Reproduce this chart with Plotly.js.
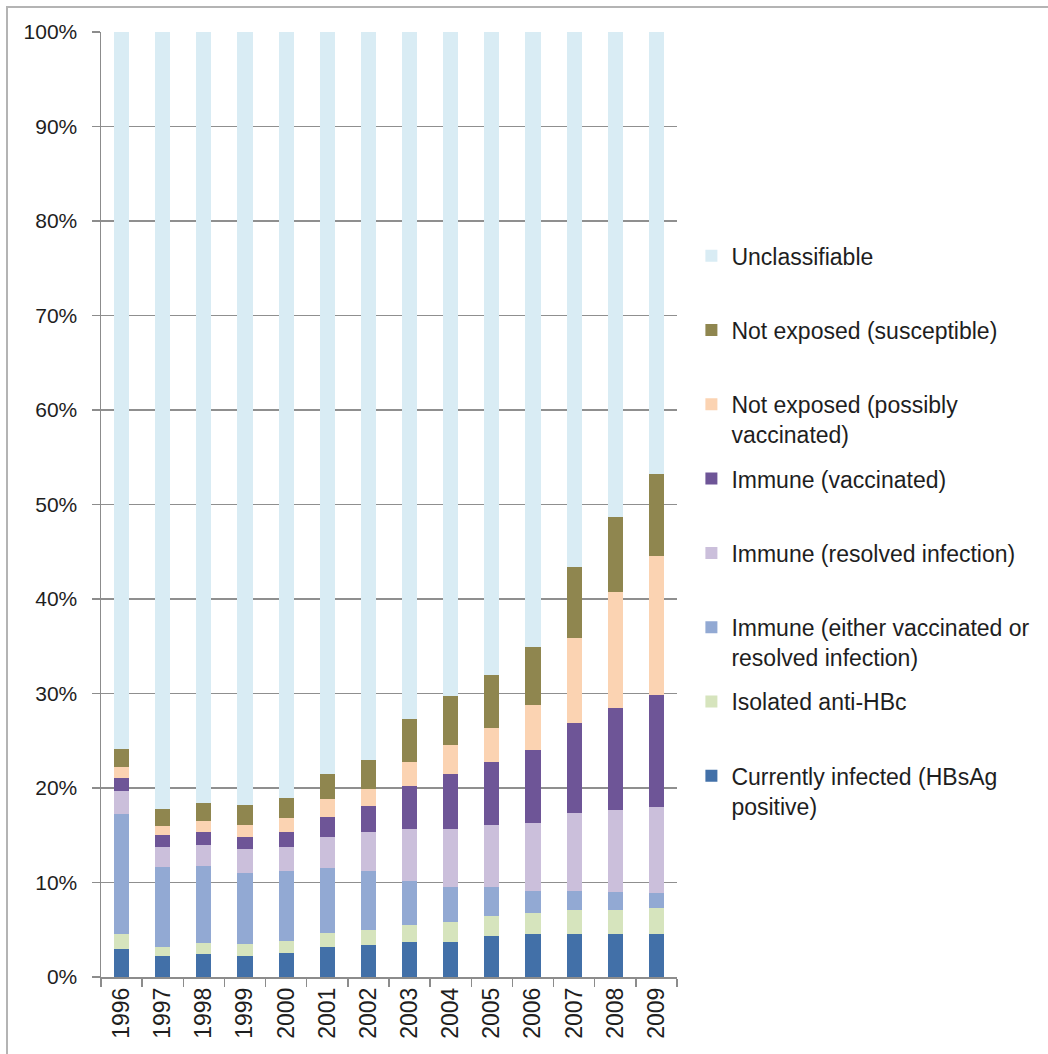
<!DOCTYPE html>
<html>
<head>
<meta charset="utf-8">
<script src="https://cdn.plot.ly/plotly-3.0.1.min.js"></script>
<style>
  html, body { margin: 0; padding: 0; background: #fff; }
  #frame { position: absolute; left: 0; top: 0; width: 1048px; height: 1054px; }
  #edge { position: absolute; left: 6px; top: 6px; width: 1042px; height: 1048px;
          border-left: 2px solid #b4b4b4; border-top: 2px solid #b4b4b4; pointer-events: none; }
  #chart { position: absolute; left: 0; top: 0; width: 1048px; height: 1054px; }
</style>
</head>
<body>
<div id="frame">
  <div id="chart"></div>
  <div id="edge"></div>
</div>
<script>
const years = ['1996','1997','1998','1999','2000','2001','2002','2003','2004','2005','2006','2007','2008','2009'];

const currentlyInfected = [3.0, 2.2, 2.4, 2.2, 2.5, 3.2, 3.4, 3.7, 3.7, 4.3, 4.6, 4.6, 4.5, 4.5];
const isolatedAntiHBc   = [1.5, 1.0, 1.2, 1.3, 1.3, 1.5, 1.6, 1.8, 2.1, 2.2, 2.2, 2.5, 2.6, 2.8];
const immuneEither      = [12.7, 8.4, 8.1, 7.5, 7.4, 6.8, 6.2, 4.7, 3.7, 3.0, 2.3, 2.0, 1.9, 1.6];
const immuneResolved    = [2.5, 2.2, 2.3, 2.5, 2.6, 3.3, 4.1, 5.5, 6.2, 6.6, 7.2, 8.3, 8.7, 9.1];
const immuneVaccinated  = [1.35, 1.2, 1.35, 1.3, 1.5, 2.1, 2.8, 4.5, 5.8, 6.7, 7.7, 9.5, 10.8, 11.8];
const possiblyVacc      = [1.2, 1.0, 1.2, 1.3, 1.5, 1.9, 1.8, 2.6, 3.1, 3.6, 4.8, 9.0, 12.2, 14.8];
const susceptible       = [1.9, 1.8, 1.9, 2.1, 2.1, 2.7, 3.1, 4.5, 5.1, 5.6, 6.1, 7.5, 8.0, 8.6];
const unclassifiable    = [75.85, 82.2, 81.55, 81.8, 81.1, 78.5, 77.0, 72.7, 70.3, 68.0, 65.1, 56.6, 51.3, 46.8];

const seriesNames = [
  'Currently infected (HBsAg<br>positive)',
  'Isolated anti-HBc<br>\u00a0',
  'Immune (either vaccinated or<br>resolved infection)',
  'Immune (resolved infection)<br>\u00a0',
  'Immune (vaccinated)<br>\u00a0',
  'Not exposed (possibly<br>vaccinated)',
  'Not exposed (susceptible)<br>\u00a0',
  'Unclassifiable<br>\u00a0'
];
const seriesValues = [currentlyInfected, isolatedAntiHBc, immuneEither, immuneResolved,
                      immuneVaccinated, possiblyVacc, susceptible, unclassifiable];
const seriesColors = ['#4270a8', '#d6e4bd', '#92a9d3', '#cbbfdb', '#6e5597', '#fbd3b2', '#8f864f', '#d9ecf4'];

const traces = seriesNames.map((name, i) => ({
  type: 'bar',
  x: years,
  y: seriesValues[i],
  name: name,
  legendgroup: 'g' + i,
  legendrank: 100 - i,
  marker: { color: seriesColors[i], line: { width: 0 } },
  hoverinfo: 'skip'
}));

const layout = {
  width: 1048,
  height: 1054,
  margin: { l: 101, r: 371, t: 32, b: 77 },
  paper_bgcolor: 'rgba(0,0,0,0)',
  plot_bgcolor: '#ffffff',
  barmode: 'stack',
  bargap: 0.63,
  font: { family: 'Liberation Sans, Arial, sans-serif', color: '#1e1e1e' },
  showlegend: true,
  legend: {
    x: 1.025, xanchor: 'left',
    y: 0.786, yanchor: 'top',
    traceorder: 'grouped',
    tracegroupgap: 11.5,
    valign: 'top',
    font: { size: 23, color: '#1e1e1e' },
    bgcolor: 'rgba(0,0,0,0)'
  },
  xaxis: {
    type: 'category',
    tickangle: -90,
    tickson: 'boundaries',
    ticks: 'outside',
    ticklen: 8,
    tickcolor: '#8c8c8c',
    tickwidth: 1.5,
    showline: true,
    linecolor: '#8c8c8c',
    linewidth: 1.5,
    showgrid: false,
    tickfont: { size: 23, color: '#1e1e1e' },
    fixedrange: true
  },
  yaxis: {
    range: [0, 100],
    tickmode: 'linear',
    tick0: 0,
    dtick: 10,
    ticksuffix: '%',
    ticks: 'outside',
    ticklen: 8,
    tickcolor: '#8c8c8c',
    tickwidth: 1.5,
    ticklabelstandoff: 10,
    showline: true,
    linecolor: '#8c8c8c',
    linewidth: 1.5,
    showgrid: true,
    gridcolor: '#8f8f8f',
    gridwidth: 1.5,
    zeroline: false,
    tickfont: { size: 21, color: '#1e1e1e' },
    fixedrange: true
  }
};

Plotly.newPlot('chart', traces, layout, { displayModeBar: false, staticPlot: true });
</script>
</body>
</html>
